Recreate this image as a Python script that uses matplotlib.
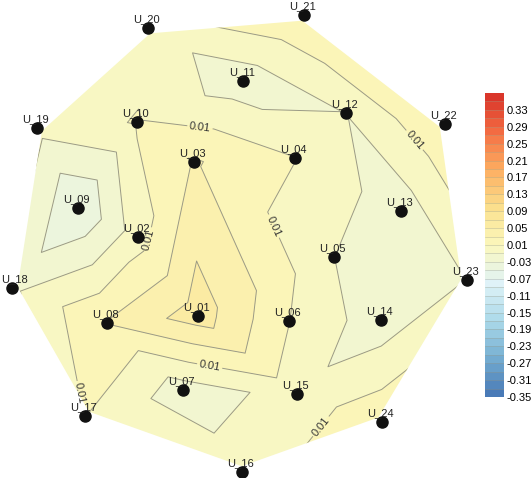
import numpy as np
import matplotlib
matplotlib.use("Agg")
import matplotlib.pyplot as plt
import matplotlib.tri as mtri
from matplotlib.colors import LinearSegmentedColormap
from matplotlib.patches import Polygon

plt.rcParams['font.family'] = ['Liberation Sans', 'DejaVu Sans']

# sensor names, layout positions and measured values
names = ["U_01", "U_02", "U_03", "U_04", "U_05", "U_06", "U_07", "U_08",
         "U_09", "U_10", "U_11", "U_12", "U_13", "U_14", "U_15", "U_16",
         "U_17", "U_18", "U_19", "U_20", "U_21", "U_22", "U_23", "U_24"]
pos_x = [198, 138, 194, 295, 334, 289, 183, 107,
         78, 137, 243, 346, 401, 381, 297, 242,
         85, 12, 37, 148, 304, 445, 467, 382]
pos_y = [316, 237, 162, 158, 257, 321, 390, 323,
         208, 122, 81, 113, 211, 320, 394, 472,
         416, 288, 128, 28, 15, 124, 280, 422]
values = [0.060, 0.0013, 0.032, 0.0105, -0.0098, 0.0105, -0.020, 0.031,
          -0.050, 0.0115, -0.022, -0.0095, -0.022, -0.022, -0.003, -0.001,
          0.0105, -0.014, -0.004, 0.0006, 0.029, 0.029, -0.0095, 0.025]

levels = np.round(np.arange(-0.35, 0.38, 0.02), 2)
cbar_ticks = np.round(np.arange(-0.35, 0.34, 0.04), 2)
label_level = 0.01
label_spots = [(200, 127), (272, 227), (150, 240), (212, 353),
               (82, 393), (313, 420), (417, 138)]

cmap = LinearSegmentedColormap.from_list(
    "rdylbu9", ['#4575b4', '#74add1', '#abd9e9', '#e0f3f8', '#fbf8bd',
                '#fbe08e', '#fdae61', '#f46d43', '#d73027'])


def convex_hull(px, py):
    pts = sorted(set(zip(px, py)))

    def cross(o, a, b):
        return (a[0] - o[0]) * (b[1] - o[1]) - (a[1] - o[1]) * (b[0] - o[0])
    lower, upper = [], []
    for p in pts:
        while len(lower) >= 2 and cross(lower[-2], lower[-1], p) <= 0:
            lower.pop()
        lower.append(p)
    for p in reversed(pts):
        while len(upper) >= 2 and cross(upper[-2], upper[-1], p) <= 0:
            upper.pop()
        upper.append(p)
    return np.array(lower[:-1] + upper[:-1], dtype=float)


fig = plt.figure(figsize=(5.31, 4.78), dpi=100)
ax = fig.add_axes([0, 0, 1, 1])
ax.set_xlim(0, 531)
ax.set_ylim(478, 0)
ax.axis('off')

tri = mtri.Triangulation(pos_x, pos_y)
cf = ax.tricontourf(tri, values, levels=levels, cmap=cmap,
                    vmin=levels[0], vmax=levels[-1])
line_style = dict(colors='#9a9a86', linewidths=0.7, linestyles='solid')
other_levels = [lv for lv in levels if abs(lv - label_level) > 1e-9]
cl_other = ax.tricontour(tri, values, levels=other_levels, **line_style)
cl = ax.tricontour(tri, values, levels=[label_level], **line_style)
ax.clabel(cl, fmt='%.2f', fontsize=8, colors='#333333', inline=True,
          inline_spacing=2, manual=label_spots)

# the gridded surface stops a little short of the outer sensors
hull = convex_hull(pos_x, pos_y)
centre = hull.mean(axis=0)
clip_poly = Polygon(centre + (hull - centre) * 0.975, closed=True,
                    transform=ax.transData, facecolor='none', edgecolor='none')
ax.add_patch(clip_poly)
for coll in (cf, cl_other, cl):
    coll.set_clip_path(clip_poly)

ax.plot(pos_x, pos_y, 'o', color='#111111', markersize=8, zorder=5)
texts = []
for n, x, y in zip(names, pos_x, pos_y):
    texts.append(ax.annotate(n, (x, y), xytext=(-1, 3),
                             textcoords='offset points', ha='center',
                             va='bottom', fontsize=8, color='#222222',
                             zorder=6))

cax = fig.add_axes([485 / 531, (478 - 397) / 478, 19 / 531, 304 / 478])
cb = fig.colorbar(cf, cax=cax, ticks=cbar_ticks)
cb.outline.set_visible(False)
cb.ax.tick_params(length=0, labelsize=8, pad=2)
cb.ax.set_yticklabels([f"{t:.2f}" for t in cbar_ticks])
for lv in levels[1:-1]:
    cb.ax.axhline(lv, color='#9a9a86', lw=0.4, alpha=0.6)

# keep sensor labels inside the figure
fig.canvas.draw()
renderer = fig.canvas.get_renderer()
for t in texts:
    bb = t.get_window_extent(renderer)
    if bb.x0 < 0:
        shift = (-bb.x0 + 1) * 72 / fig.dpi
        t.xyann = (-1 + shift, 3)

fig.savefig("out.png", dpi=100)
